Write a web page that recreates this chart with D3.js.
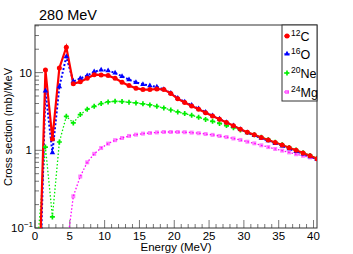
<!DOCTYPE html>
<html><head><meta charset="utf-8">
<script src="https://cdn.jsdelivr.net/npm/d3@7"></script>
<style>body{margin:0;background:#fff}svg{display:block;font-family:"Liberation Sans",Arial,sans-serif}</style>
</head><body><svg id="c" width="353" height="254"></svg>
<script>
const energies = d3.range(0, 41).map(i => i + 0.5);
const c12 = [0.01,10.8,1.4,11.5,21.2,7.2,7.6,8.45,9.4,9.35,9.15,8.45,7.5,6.8,6.3,6.05,6.05,6.15,6.05,5.4,4.6,4.12,3.72,3.37,3.05,2.77,2.51,2.28,2.07,1.87,1.71,1.58,1.46,1.36,1.26,1.17,1.08,1.0,0.92,0.85,0.78];
const o16 = [0.005,5.8,0.93,6.6,16.0,7.7,8.4,9.15,10.3,10.8,10.6,9.9,8.96,8.13,7.5,7.07,6.8,6.55,6.1,5.45,4.7,4.2,3.8,3.43,3.1,2.8,2.53,2.29,2.07,1.86,1.69,1.55,1.43,1.33,1.23,1.14,1.05,0.97,0.9,0.83,0.77];
const ne20 = [0.09,1.1,0.139,1.28,2.74,2.25,2.88,3.38,3.68,3.99,4.2,4.27,4.24,4.15,4.07,3.96,3.84,3.68,3.51,3.3,3.12,2.97,2.82,2.66,2.5,2.36,2.22,2.08,1.95,1.82,1.7,1.58,1.47,1.37,1.27,1.18,1.09,1.01,0.93,0.86,0.79];
const mg24 = [null,null,null,null,0.05,0.256,0.46,0.70,0.90,1.07,1.22,1.35,1.44,1.53,1.59,1.64,1.67,1.70,1.72,1.72,1.72,1.71,1.69,1.66,1.62,1.58,1.53,1.48,1.42,1.36,1.29,1.23,1.16,1.10,1.04,0.99,0.94,0.89,0.85,0.81,0.77];
const xTicks = [0,5,10,15,20,25,30,35,40];
const seriesNames = ["12C","16O","20Ne","24Mg"];

const svg = d3.select("#c");
const L=35, R=317, T=25, B=228;
const x = d3.scaleLinear().domain([0,40.5]).range([L,R]);
const y = d3.scaleLog().domain([0.1,41]).range([B,T]);

svg.append("defs").append("clipPath").attr("id","clip")
  .append("rect").attr("x",L).attr("y",T).attr("width",R-L).attr("height",B-T);

const tickCol="#777";
const g = svg.append("g");
d3.range(0,41).forEach(v=>{
  const major = v%5===0;
  g.append("line").attr("x1",x(v)).attr("x2",x(v)).attr("y1",B).attr("y2",B-(major?8:4))
   .attr("stroke",tickCol).attr("stroke-width",1);
});
const yMinor=[];
[0.1,1,10].forEach(d=>{for(let k=1;k<10;k++){const v=d*k; if(v<=41) yMinor.push(v);}});
yMinor.forEach(v=>{
  const major = [0.1,1,10].includes(v);
  g.append("line").attr("x1",L).attr("x2",L+(major?8:4)).attr("y1",y(v)).attr("y2",y(v))
   .attr("stroke",tickCol).attr("stroke-width",1);
});

svg.append("rect").attr("x",L).attr("y",T).attr("width",R-L).attr("height",B-T)
  .attr("fill","none").attr("stroke","#333").attr("stroke-width",1);

xTicks.forEach(v=>{
  svg.append("text").attr("x",x(v)).attr("y",240).attr("text-anchor","middle")
    .attr("font-size",11.5).text(v);
});
svg.append("text").attr("x",L-3).attr("y",y(10)+4).attr("text-anchor","end").attr("font-size",11.5).text("10");
svg.append("text").attr("x",L-3).attr("y",y(1)+4).attr("text-anchor","end").attr("font-size",11.5).text("1");
const tm = svg.append("text").attr("x",L-2).attr("y",B+4).attr("text-anchor","end").attr("font-size",11.5);
tm.append("tspan").text("10");
tm.append("tspan").attr("font-size",8).attr("dy",-5).text("−1");

svg.append("text").attr("x",(L+R)/2).attr("y",251).attr("text-anchor","middle").attr("font-size",11.5).text("Energy (MeV)");
svg.append("text").attr("transform",`translate(12,${127}) rotate(-90)`).attr("text-anchor","middle")
  .attr("font-size",11).text("Cross section (mb)/MeV");
svg.append("text").attr("x",39).attr("y",20).attr("font-size",14.5).text("280 MeV");

const plot = svg.append("g").attr("clip-path","url(#clip)");
const yc = v => y(Math.max(v,1e-4));
const line = d3.line().defined(d=>d[1]!=null).x(d=>x(d[0])).y(d=>yc(d[1]));

const specs = [
  {data:c12, color:"#ff0000", w:2.2, dash:null, mk:"circle", ms:5, op:1},
  {data:o16, color:"#0000ff", w:2, dash:"2,2", mk:"triangle", ms:3.8, op:1},
  {data:ne20, color:"#00ee00", w:1.3, dash:"1.5,2", mk:"cross", ms:3.4, op:1},
  {data:mg24, color:"#ff00ff", w:1.3, dash:"1.5,2", mk:"square", ms:4, op:0.5},
];
[3,2,1,0].forEach(i=>{
  const s=specs[i];
  const pts = energies.map((e,j)=>[e,s.data[j]]);
  plot.append("path").datum(pts).attr("d",line).attr("fill","none")
    .attr("stroke",s.color).attr("stroke-width",s.w).attr("stroke-dasharray",s.dash);
});
function marker(sel, type, cx, cy, ms, color, op){
  if(type==="circle") sel.append("circle").attr("cx",cx).attr("cy",cy).attr("r",ms/2).attr("fill",color).attr("opacity",op);
  else if(type==="square") sel.append("rect").attr("x",cx-ms/2).attr("y",cy-ms/2).attr("width",ms).attr("height",ms).attr("fill",color).attr("opacity",op);
  else if(type==="triangle") sel.append("path").attr("d",d3.symbol(d3.symbolTriangle, ms*ms*0.9)()).attr("transform",`translate(${cx},${cy})`).attr("fill",color).attr("opacity",op);
  else if(type==="cross") sel.append("path").attr("d",d3.symbol(d3.symbolCross, ms*ms*1.2)()).attr("transform",`translate(${cx},${cy})`).attr("fill",color).attr("opacity",op);
}
[3,2,1,0].forEach(i=>{
  const s=specs[i];
  energies.forEach((e,j)=>{
    const v=s.data[j];
    if(v==null||v<0.1) return;
    marker(plot, s.mk, x(e), y(v), s.ms, s.color, s.op);
  });
});

const lg = svg.append("g");
lg.append("rect").attr("x",282).attr("y",T).attr("width",R-282).attr("height",76)
  .attr("fill","#fff").attr("stroke","#333").attr("stroke-width",1);
const lys=[36,54,73,92];
specs.forEach((s,i)=>{
  const yy=lys[i];
  lg.append("line").attr("x1",284).attr("x2",290).attr("y1",yy).attr("y2",yy)
    .attr("stroke",s.color).attr("stroke-width",1).attr("stroke-dasharray",s.dash);
  marker(lg, s.mk, 287, yy, s.ms, s.color, s.op);
  const name=seriesNames[i];
  const m=name.match(/^(\d+)(.*)$/);
  const t=lg.append("text").attr("x",291).attr("y",yy+5).attr("font-size",12.5);
  t.append("tspan").attr("font-size",8.5).attr("dy",-5).text(m[1]);
  t.append("tspan").attr("dy",5).text(m[2]);
});
</script></body></html>
